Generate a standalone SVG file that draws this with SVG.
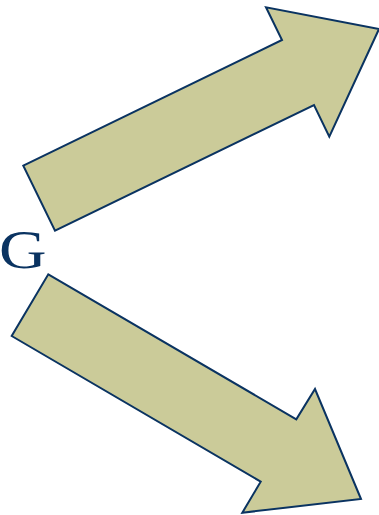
<svg xmlns="http://www.w3.org/2000/svg" width="379" height="515" viewBox="0 0 379 515">
<style>
.arrow{fill:#cbcb99;stroke:#0a3361;stroke-width:2;stroke-linejoin:miter}
.lbl{font-family:"Liberation Serif","Times New Roman",serif;font-size:54px;fill:#0a3361}
</style>
<rect width="379" height="515" fill="#ffffff"/>
<g id="label-G"><text class="lbl" transform="translate(-1,268) scale(1.22,1)" x="0" y="0">G</text></g>
<g id="connectors">
<polygon id="arrow-up" class="arrow" points="23.3,165.7 282,40 266,7.3 379,29 329.3,136.7 314,105 55,230.7"/>
<polygon id="arrow-down" class="arrow" points="48.3,274.3 296.3,419.3 315,389 361,499 242.3,512.7 260.7,481.7 11.7,336"/>
</g>
</svg>
